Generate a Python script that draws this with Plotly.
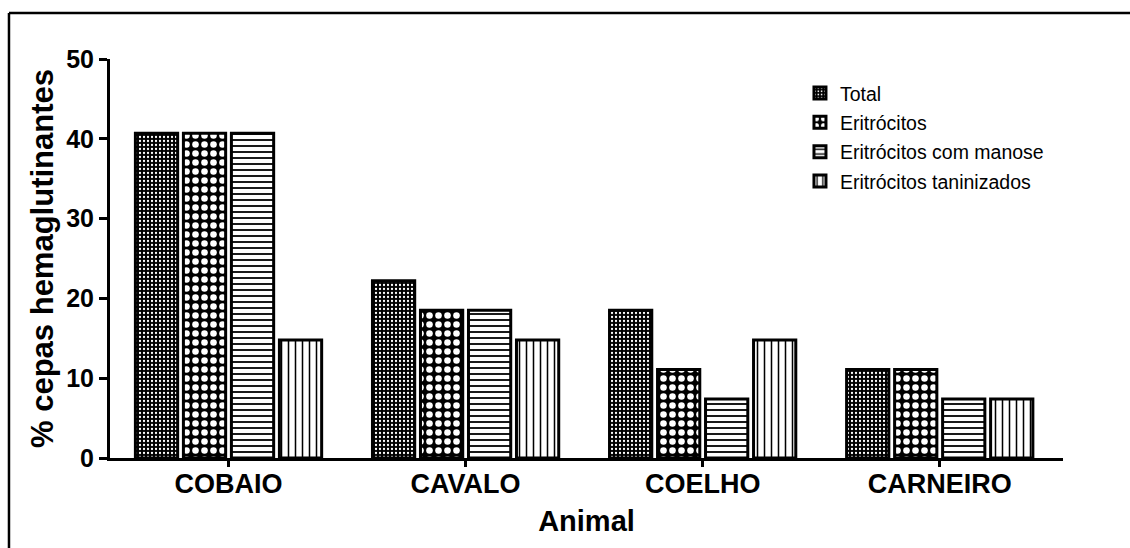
import plotly.graph_objects as go

# Percentage of haemagglutinating strains per animal erythrocyte source
categories = ["COBAIO", "CAVALO", "COELHO", "CARNEIRO"]
total = [40.7, 22.2, 18.5, 11.1]
eritrocitos = [40.7, 18.5, 11.1, 11.1]
eritrocitos_manose = [40.7, 18.5, 7.4, 7.4]
eritrocitos_taninizados = [14.8, 14.8, 14.8, 7.4]

series_names = ["Total", "Eritrócitos", "Eritrócitos com manose", "Eritrócitos taninizados"]
series_values = [total, eritrocitos, eritrocitos_manose, eritrocitos_taninizados]

# Black-and-white fill patterns for each series
patterns = [
    dict(shape=".", bgcolor="black", fgcolor="white", size=4, solidity=0.25, fillmode="replace"),
    dict(shape=".", bgcolor="black", fgcolor="white", size=9, solidity=0.42, fillmode="replace"),
    dict(shape="-", bgcolor="white", fgcolor="black", size=6, solidity=0.3, fillmode="replace"),
    dict(shape="|", bgcolor="white", fgcolor="black", size=7, solidity=0.22, fillmode="replace"),
]

FONT = "Liberation Sans, Arial, sans-serif"

fig = go.Figure()
for i, (name, vals, pat) in enumerate(zip(series_names, series_values, patterns)):
    fig.add_trace(go.Bar(
        x=categories,
        y=vals,
        name=name,
        legendgroup=f"g{i}",
        marker=dict(color="white", pattern=pat, line=dict(color="black", width=3)),
    ))

fig.update_layout(
    width=1130,
    height=548,
    margin=dict(l=110, r=67, t=59, b=90),
    paper_bgcolor="white",
    plot_bgcolor="white",
    barmode="group",
    bargap=0.19,
    bargroupgap=0.12,
    font=dict(family=FONT, color="black"),
    legend=dict(
        x=0.724, y=0.963, xanchor="left", yanchor="top",
        font=dict(size=19.5, family=FONT),
        traceorder="grouped",
        tracegroupgap=1,
        bgcolor="rgba(0,0,0,0)",
    ),
    xaxis=dict(
        range=[-0.5, 3.52],
        showline=True, linecolor="black", linewidth=3,
        ticks="outside", ticklen=6, tickwidth=3, tickcolor="black",
        ticklabelstandoff=-6,
        tickfont=dict(size=27, family=FONT, weight="bold"),
        title=dict(text="Animal", font=dict(size=29, family=FONT, weight="bold"), standoff=13),
        showgrid=False, zeroline=False,
    ),
    yaxis=dict(
        range=[0, 50], dtick=10,
        showline=True, linecolor="black", linewidth=3,
        ticks="outside", ticklen=8, tickwidth=3, tickcolor="black",
        tickfont=dict(size=25, family=FONT, weight="bold"),
        title=dict(text="% cepas hemaglutinantes", font=dict(size=31, family=FONT, weight="bold"), standoff=4),
        showgrid=False, zeroline=False,
    ),
    shapes=[
        # Outer frame: top and left edges
        dict(type="line", xref="paper", yref="paper", x0=-0.106, x1=1.2, y0=1.115, y1=1.115,
             line=dict(color="black", width=2.5)),
        dict(type="line", xref="paper", yref="paper", x0=-0.106, x1=-0.106, y0=1.115, y1=-0.3,
             line=dict(color="black", width=2.5)),
    ],
)

fig.write_html("out.html")
